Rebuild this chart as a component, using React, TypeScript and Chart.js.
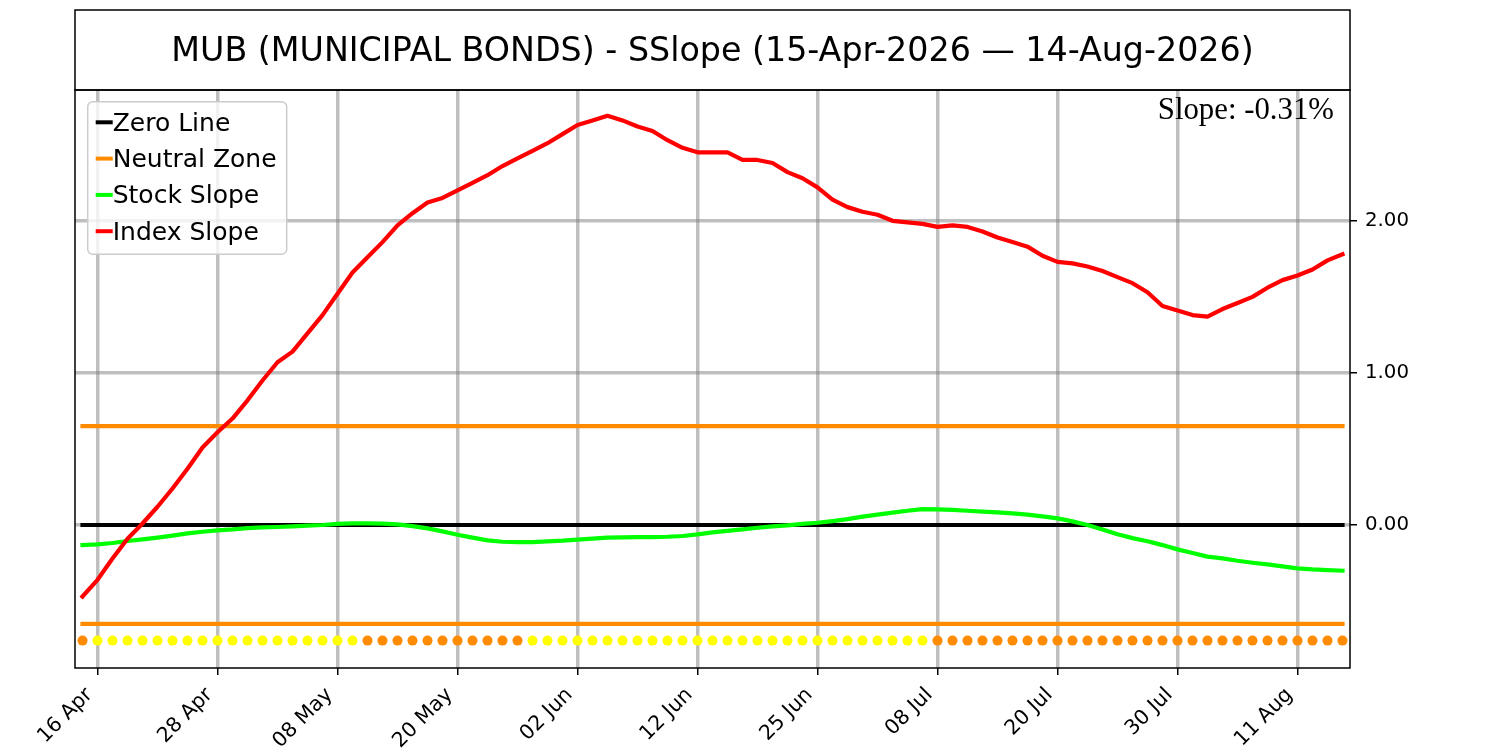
import React, { useEffect, useRef } from "react";
import { Chart, registerables } from "chart.js";

Chart.register(...registerables);

const TITLE = "MUB (MUNICIPAL BONDS) - SSlope (15-Apr-2026 — 14-Aug-2026)";
const SLOPE_TEXT = "Slope: -0.31%";

// trading days (categories)
const APR_DAYS = [15, 16, 17, 20, 21, 22, 23, 24, 27, 28, 29, 30];
const MAY_DAYS = [1, 4, 5, 6, 7, 8, 11, 12, 13, 14, 15, 18, 19, 20, 21, 22, 26, 27, 28, 29];
const JUN_DAYS = [1, 2, 3, 4, 5, 8, 9, 10, 11, 12, 15, 16, 17, 18, 22, 23, 24, 25, 26, 29, 30];
const JUL_DAYS = [1, 2, 6, 7, 8, 9, 10, 13, 14, 15, 16, 17, 20, 21, 22, 23, 24, 27, 28, 29, 30, 31];
const AUG_DAYS = [3, 4, 5, 6, 7, 10, 11, 12, 13, 14];

const pad2 = (d: number) => String(d).padStart(2, "0");
const DATES: string[] = [
  ...APR_DAYS.map((d) => `${pad2(d)} Apr`),
  ...MAY_DAYS.map((d) => `${pad2(d)} May`),
  ...JUN_DAYS.map((d) => `${pad2(d)} Jun`),
  ...JUL_DAYS.map((d) => `${pad2(d)} Jul`),
  ...AUG_DAYS.map((d) => `${pad2(d)} Aug`),
];

const TICK_LABELS = ["16 Apr", "28 Apr", "08 May", "20 May", "02 Jun", "12 Jun", "25 Jun", "08 Jul", "20 Jul", "30 Jul", "11 Aug"];
const Y_TICKS = [0, 1, 2];
const Y_MIN = -0.94;
const Y_MAX = 2.86;

const ZERO_LEVEL = 0;
const NEUTRAL_UPPER = 0.65;
const NEUTRAL_LOWER = -0.65;
const SIGNAL_LEVEL = -0.76;

const INDEX_SLOPE = [
  -0.47, -0.36, -0.22, -0.09, 0.01, 0.12, 0.24, 0.37, 0.51, 0.61,
  0.70, 0.82, 0.95, 1.07, 1.14, 1.26, 1.38, 1.52, 1.66, 1.76,
  1.86, 1.97, 2.05, 2.12, 2.15, 2.20, 2.25, 2.30, 2.36, 2.41,
  2.46, 2.51, 2.57, 2.63, 2.66, 2.69, 2.66, 2.62, 2.59, 2.53,
  2.48, 2.45, 2.45, 2.45, 2.40, 2.40, 2.38, 2.32, 2.28, 2.22,
  2.14, 2.09, 2.06, 2.04, 2.00, 1.99, 1.98, 1.96, 1.97, 1.96,
  1.93, 1.89, 1.86, 1.83, 1.77, 1.73, 1.72, 1.70, 1.67, 1.63,
  1.59, 1.53, 1.44, 1.41, 1.38, 1.37, 1.42, 1.46, 1.50, 1.56,
  1.61, 1.64, 1.68, 1.74, 1.78,
];

const STOCK_SLOPE = [
  -0.132, -0.127, -0.118, -0.105, -0.094, -0.083, -0.070, -0.055, -0.044, -0.035,
  -0.029, -0.020, -0.015, -0.013, -0.009, -0.004, 0.000, 0.007, 0.011, 0.011,
  0.009, 0.004, -0.007, -0.022, -0.042, -0.064, -0.083, -0.101, -0.110, -0.112,
  -0.112, -0.107, -0.103, -0.096, -0.090, -0.083, -0.081, -0.079, -0.079, -0.077,
  -0.072, -0.061, -0.048, -0.039, -0.029, -0.018, -0.009, -0.002, 0.007, 0.015,
  0.026, 0.039, 0.055, 0.068, 0.081, 0.094, 0.105, 0.103, 0.099, 0.094,
  0.088, 0.083, 0.077, 0.068, 0.057, 0.044, 0.024, 0.000, -0.029, -0.061,
  -0.086, -0.107, -0.132, -0.160, -0.184, -0.208, -0.219, -0.235, -0.248, -0.259,
  -0.272, -0.285, -0.292, -0.296, -0.300,
];

// Y = yellow signal, O = orange signal (one per trading day)
const SIGNAL_STATE = (
  "O" +
  "YYYYYYYYYY" + "YYYYYYYY" +
  "OOOOOOOOOO" + "O" +
  "YYYYYYYYYY" + "YYYYYYYYYY" + "YYYYYYY" +
  "OOOOOOOOOO" + "OOOOOOOOOO" + "OOOOOOOO"
).split("");

const LEGEND_LABELS = ["Zero Line", "Neutral Zone", "Stock Slope", "Index Slope"];

const BLACK = "#000000";
const ORANGE = "#ff8c00";
const YELLOW = "#ffff00";
const GREEN = "#00ff00";
const RED = "#ff0000";
const GRID = "rgba(128,128,128,0.5)";
const SANS = "'DejaVu Sans', sans-serif";
const SERIF = "'Liberation Serif', 'Times New Roman', serif";

const framePlugin = {
  id: "framePlugin",
  afterDraw(chart: any) {
    const { ctx, chartArea } = chart;
    const { left, top, right, bottom } = chartArea;
    ctx.save();
    ctx.strokeStyle = BLACK;
    ctx.lineWidth = 1.5;
    ctx.strokeRect(left, top, right - left, bottom - top);
    // title box
    ctx.strokeRect(left, 10, right - left, top - 10);
    ctx.fillStyle = BLACK;
    ctx.font = `33.3px ${SANS}`;
    ctx.textAlign = "center";
    ctx.textBaseline = "alphabetic";
    ctx.fillText(TITLE, (left + right) / 2, 61);
    // slope annotation
    ctx.font = `30.8px ${SERIF}`;
    ctx.textAlign = "right";
    ctx.fillText(SLOPE_TEXT, right - 16, top + 29);
    ctx.restore();
  },
};

const legendPlugin = {
  id: "boxLegend",
  afterDatasetsDraw(chart: any) {
    const { ctx, chartArea } = chart;
    const x = chartArea.left + 12.7;
    const y = chartArea.top + 11.7;
    const w = 199;
    const h = 152.6;
    const r = 5;
    ctx.save();
    ctx.beginPath();
    ctx.moveTo(x + r, y);
    ctx.arcTo(x + w, y, x + w, y + h, r);
    ctx.arcTo(x + w, y + h, x, y + h, r);
    ctx.arcTo(x, y + h, x, y, r);
    ctx.arcTo(x, y, x + w, y, r);
    ctx.closePath();
    ctx.fillStyle = "rgba(255,255,255,0.8)";
    ctx.fill();
    ctx.strokeStyle = "#cccccc";
    ctx.lineWidth = 1.5;
    ctx.stroke();
    ctx.font = `25px ${SANS}`;
    ctx.textAlign = "left";
    ctx.textBaseline = "alphabetic";
    LEGEND_LABELS.forEach((label, k) => {
      const ds = chart.data.datasets.find((d: any) => d.label === label);
      const cy = y + 20.6 + k * 36.3;
      ctx.beginPath();
      ctx.moveTo(x + 8, cy);
      ctx.lineTo(x + 25, cy);
      ctx.strokeStyle = ds ? ds.borderColor : BLACK;
      ctx.lineWidth = 4;
      ctx.lineCap = "butt";
      ctx.stroke();
      ctx.fillStyle = BLACK;
      ctx.fillText(label, x + 25, cy + 8.4);
    });
    ctx.restore();
  },
};

const lineStyle = {
  fill: false,
  pointRadius: 0,
  pointHoverRadius: 0,
  tension: 0,
  borderWidth: 4.2,
  borderCapStyle: "square" as const,
  borderJoinStyle: "round" as const,
};

export default function App() {
  const ref = useRef<HTMLCanvasElement>(null);

  useEffect(() => {
    const canvas = ref.current;
    if (!canvas) return;
    const chart = new Chart(canvas, {
      type: "line",
      data: {
        labels: DATES,
        datasets: [
          {
            label: "Signal",
            data: DATES.map(() => SIGNAL_LEVEL),
            showLine: false,
            pointRadius: 5,
            pointHoverRadius: 5,
            pointBorderWidth: 0,
            pointBackgroundColor: SIGNAL_STATE.map((s) => (s === "Y" ? YELLOW : ORANGE)),
            borderColor: "transparent",
            order: 1,
          },
          { label: "Index Slope", data: INDEX_SLOPE, borderColor: RED, ...lineStyle, order: 2 },
          { label: "Stock Slope", data: STOCK_SLOPE, borderColor: GREEN, ...lineStyle, order: 3 },
          { label: "Neutral Zone", data: DATES.map(() => NEUTRAL_UPPER), borderColor: ORANGE, ...lineStyle, order: 4 },
          { label: "Neutral Zone Lower", data: DATES.map(() => NEUTRAL_LOWER), borderColor: ORANGE, ...lineStyle, order: 4 },
          { label: "Zero Line", data: DATES.map(() => ZERO_LEVEL), borderColor: BLACK, ...lineStyle, order: 5 },
        ],
      },
      options: {
        animation: false,
        responsive: false,
        events: [],
        layout: { padding: { left: 75, top: 90, right: 0, bottom: 0 } },
        plugins: {
          legend: { display: false },
          title: { display: false },
          tooltip: { enabled: false },
        },
        scales: {
          x: {
            type: "category",
            offset: true,
            grid: {
              offset: false,
              color: GRID,
              lineWidth: 3.5,
              drawTicks: true,
              tickLength: 7,
              tickColor: BLACK,
              tickWidth: 1.5,
            },
            border: { display: false },
            ticks: {
              autoSkip: false,
              minRotation: 45,
              maxRotation: 45,
              padding: 8,
              labelOffset: -8,
              color: BLACK,
              font: { family: SANS, size: 20.5 },
            },
            afterBuildTicks: (scale: any) => {
              scale.ticks = scale.ticks.filter((t: any) => TICK_LABELS.includes(DATES[t.value]));
            },
            afterFit: (scale: any) => {
              scale.height = 82;
              scale.paddingLeft = 0;
              scale.paddingRight = 0;
            },
          },
          y: {
            type: "linear",
            position: "right",
            min: Y_MIN,
            max: Y_MAX,
            grid: {
              color: GRID,
              lineWidth: 3.5,
              drawTicks: true,
              tickLength: 7,
              tickColor: BLACK,
              tickWidth: 1.5,
            },
            border: { display: false },
            ticks: {
              padding: 8,
              color: BLACK,
              font: { family: SANS, size: 19.8 },
              callback: (v: any) => Number(v).toFixed(2),
            },
            afterBuildTicks: (scale: any) => {
              scale.ticks = Y_TICKS.map((v) => ({ value: v }));
            },
            afterFit: (scale: any) => {
              scale.width = 150;
              scale.paddingTop = 0;
              scale.paddingBottom = 0;
            },
          },
        },
      },
      plugins: [legendPlugin, framePlugin],
    });
    return () => chart.destroy();
  }, []);

  return (
    <div style={{ position: "absolute", left: 0, top: 0, width: 1500, height: 750, background: "#ffffff" }}>
      <canvas ref={ref} width={1500} height={750} style={{ display: "block", width: 1500, height: 750 }} />
    </div>
  );
}
